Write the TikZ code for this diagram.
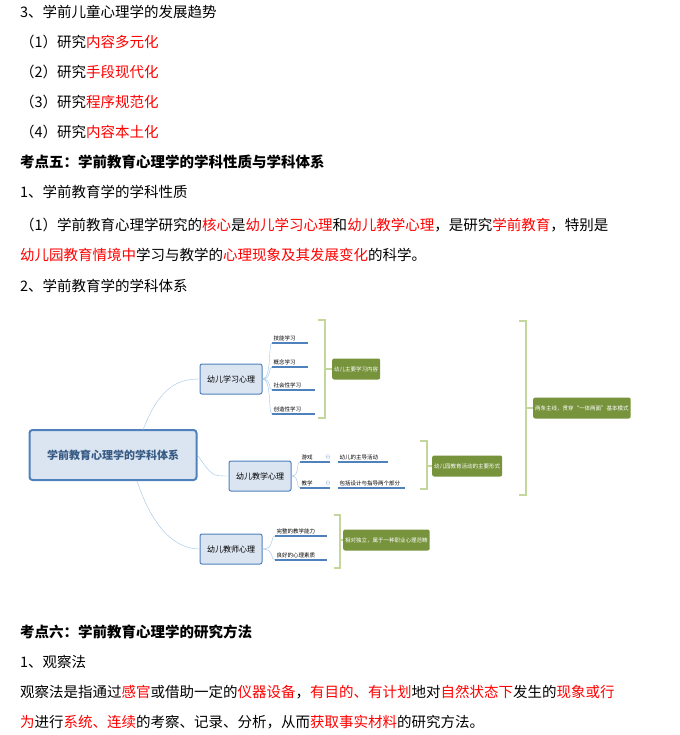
\documentclass[tikz,border=0pt]{standalone}
\usepackage{fontspec}
\setmainfont{Noto Sans CJK SC}
\usetikzlibrary{positioning}
\definecolor{mapblue}{HTML}{4F81BD}
\definecolor{mapfill}{HTML}{DBE5F1}
\definecolor{mapgreen}{HTML}{77933C}
\definecolor{brkgreen}{HTML}{C3D69B}
\definecolor{lineblue}{HTML}{9DC3E6}
\newcommand{\hl}[1]{\textcolor{red}{#1}}
\tikzset{
  txt/.style={anchor=west,inner sep=0pt,font=\fontsize{14.5}{17}\selectfont},
  root/.style={draw=mapblue,line width=2pt,fill=mapfill,rounded corners=3pt,minimum width=167pt,minimum height=50pt,font=\fontsize{11}{13}\selectfont\bfseries,text=mapblue!70!black},
  branch/.style={draw=mapblue,line width=1pt,fill=mapfill,rounded corners=2pt,minimum width=62pt,minimum height=30pt,font=\fontsize{8}{10}\selectfont},
  leaf/.style={anchor=south west,inner sep=1.5pt,font=\fontsize{5.5}{7}\selectfont},
  note/.style={fill=mapgreen,rounded corners=2pt,text=white,inner sep=2pt,minimum height=21pt,font=\fontsize{5.5}{7}\selectfont\itshape},
  link/.style={draw=lineblue,thin},
  uline/.style={draw=mapblue,line width=1.5pt},
  brk/.style={draw=brkgreen,line width=1.5pt},
}
\begin{document}
\begin{tikzpicture}[x=1pt,y=-1pt]
 \useasboundingbox (0,0) rectangle (679,735);

 % text above the map
 \node[txt] (t1) at (20,12)  {3、学前儿童心理学的发展趋势};
 \node[txt] (t2) at (20,42)  {（1）研究\hl{内容多元化}};
 \node[txt] (t3) at (20,72)  {（2）研究\hl{手段现代化}};
 \node[txt] (t4) at (20,102) {（3）研究\hl{程序规范化}};
 \node[txt] (t5) at (20,132) {（4）研究\hl{内容本土化}};
 \node[txt,font=\fontsize{14.5}{17}\selectfont\bfseries] (t6) at (20,162) {考点五：学前教育心理学的学科性质与学科体系};
 \node[txt] (t7) at (20,192) {1、学前教育学的学科性质};
 \node[txt] (t8) at (20,225) {（1）学前教育心理学研究的\hl{核心}是\hl{幼儿学习心理}和\hl{幼儿教学心理}，是研究\hl{学前教育}，特别是};
 \node[txt] (t9) at (20,255) {\hl{幼儿园教育情境中}学习与教学的\hl{心理现象及其发展变化}的科学。};
 \node[txt] (t10) at (20,286) {2、学前教育学的学科体系};

 % mind map
 \node[root]   (sys)   at (113,455) {学前教育心理学的学科体系};
 \node[branch] (learn) at (231,379) {幼儿学习心理};
 \node[branch] (teach) at (260,476) {幼儿教学心理};
 \node[branch] (tchr)  at (231,549) {幼儿教师心理};

 \draw[link] (143,430) .. controls (160,385) and (180,379) .. (learn.west);
 \draw[link] (sys.east) .. controls (212,476) .. (teach.west);
 \draw[link] (137,481) .. controls (155,535) and (180,549) .. (learn.west |- tchr.west);

 % learning leaves
 \foreach \n/\t/\y/\w in {l1/技能学习/343/36,l2/概念学习/367/36,l3/社会性学习/390/43,l4/创造性学习/414/43}{
   \node[leaf] (\n) at (272,\y) {\t};
   \draw[uline] (\n.south west) -- ++(\w,0);
   \draw[link] (learn.east) .. controls (272,379) and (268,\y) .. (\n.south west);
 }
 \draw[brk] (318,320) -- (325,320) -- (325,418) -- (318,418);
 \node[note,anchor=west] (lnote) at (332,369) {幼儿主要学习内容};
 \draw[brk] (325,369) -- (lnote.west);

 % teaching leaves
 \foreach \n/\t/\y/\m/\d/\w in {g1/游戏/462/幼儿的主导活动/m1/50,g2/教学/488/包括设计与指导两个部分/m2/67}{
   \node[leaf] (\n) at (300,\y) {\t};
   \draw[uline] (\n.south west) -- ++(30,0);
   \node[font=\fontsize{5}{6}\selectfont,text=mapblue,inner sep=0pt] at (328,\y-5) {$\ominus$};
   \node[leaf] (\d) at (338,\y) {\m};
   \draw[uline] (\d.south west) -- ++(\w,0);
   \draw[link] (teach.east) .. controls (300,476) and (296,\y) .. (\n.south west);
 }
 \draw[brk] (420,441) -- (427,441) -- (427,489) -- (420,489);
 \node[note,anchor=west] (tnote) at (432,466) {幼儿园教育活动的主要形式};
 \draw[brk] (427,466) -- (tnote.west);

 % teacher leaves
 \foreach \n/\t/\y in {k1/完整的教学能力/536,k2/良好的心理素质/560}{
   \node[leaf] (\n) at (275,\y) {\t};
   \draw[uline] (\n.south west) -- ++(52,0);
   \draw[link] (tchr.east) .. controls (275,549) and (270,\y) .. (\n.south west);
 }
 \draw[brk] (334,515) -- (340,515) -- (340,568) -- (334,568);
 \node[note,anchor=west] (knote) at (343,540) {相对独立，属于一种职业心理范畴};
 \draw[brk] (340,540) -- (knote.west);

 % big bracket
 \draw[brk] (519,321) -- (526,321) -- (526,495) -- (519,495);
 \node[note,anchor=west] (main) at (533,408) {两条主线，贯穿“一体两面”基本模式};
 \draw[brk] (526,408) -- (main.west);

 % text below the map
 \node[txt,font=\fontsize{14.5}{17}\selectfont\bfseries] (t11) at (20,632) {考点六：学前教育心理学的研究方法};
 \node[txt] (t12) at (20,662) {1、观察法};
 \node[txt] (t13) at (20,692) {观察法是指通过\hl{感官}或借助一定的\hl{仪器设备}，\hl{有目的、有计划}地对\hl{自然状态下}发生的\hl{现象或行}};
 \node[txt] (t14) at (20,722) {\hl{为}进行\hl{系统、连续}的考察、记录、分析，从而\hl{获取事实材料}的研究方法。};
\end{tikzpicture}
\end{document}
